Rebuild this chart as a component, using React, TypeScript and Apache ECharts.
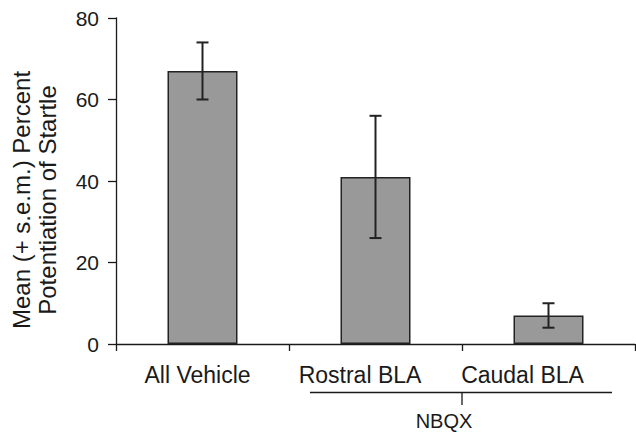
import React, { useEffect, useRef } from "react";
import * as echarts from "echarts";

const categories = ["All Vehicle", "Rostral BLA", "Caudal BLA"];
const means = [67, 41, 7];
const sems = [7, 15, 3];
const yTicks = { min: 0, max: 80, interval: 20 };
const groupLabel = "NBQX";
const yTitle = ["Mean (+ s.e.m.) Percent", "Potentiation of Startle"];
// label shift (px to the left of each category centre) as in the original figure
const labelShift = [10, 31, 52];

const FONT = "'Liberation Sans', Arial, Helvetica, sans-serif";
const INK = "#1a1a1a";

export default function App() {
  const ref = useRef<HTMLDivElement>(null);
  useEffect(() => {
    if (!ref.current) return;
    const chart = echarts.init(ref.current, undefined, { renderer: "svg" });
    const errData = means.map((m, i) => [i, m - sems[i], m + sems[i]]);
    chart.setOption({
      animation: false,
      backgroundColor: "#ffffff",
      grid: { left: 116, right: 1, top: 18, bottom: 89, outerBoundsMode: "none" },
      xAxis: {
        type: "category",
        data: categories.map((c, i) => ({
          value: c,
          textStyle: { padding: [0, labelShift[i], 0, 0] },
        })),
        boundaryGap: true,
        axisLine: { show: true, lineStyle: { color: INK, width: 1.3 } },
        axisTick: { show: true, length: 7, inside: false, alignWithLabel: false, lineStyle: { color: INK, width: 1.3 } },
        axisLabel: { color: INK, fontSize: 23, fontFamily: FONT, margin: 19 },
        splitLine: { show: false },
      },
      yAxis: {
        type: "value",
        min: yTicks.min,
        max: yTicks.max,
        interval: yTicks.interval,
        axisLine: { show: true, lineStyle: { color: INK, width: 1.3 } },
        axisTick: { show: true, length: 8, lineStyle: { color: INK, width: 1.3 } },
        axisLabel: { color: INK, fontSize: 21, fontFamily: FONT, margin: 17 },
        splitLine: { show: false },
      },
      series: [
        {
          type: "bar",
          data: means,
          barWidth: 70,
          itemStyle: { color: "#999999", borderColor: "#222222", borderWidth: 1.5 },
        },
        {
          type: "custom",
          data: errData,
          z: 10,
          renderItem: (params: any, api: any) => {
            const x = api.value(0);
            const lo = api.coord([x, api.value(1)]);
            const hi = api.coord([x, api.value(2)]);
            const half = 6;
            const style = { stroke: "#222222", lineWidth: 2 };
            return {
              type: "group",
              children: [
                { type: "line", shape: { x1: lo[0], y1: lo[1], x2: hi[0], y2: hi[1] }, style },
                { type: "line", shape: { x1: hi[0] - half, y1: hi[1], x2: hi[0] + half, y2: hi[1] }, style },
                { type: "line", shape: { x1: lo[0] - half, y1: lo[1], x2: lo[0] + half, y2: lo[1] }, style },
              ],
            };
          },
        },
      ],
      graphic: [
        {
          type: "text",
          x: 34,
          y: 200,
          rotation: Math.PI / 2,
          style: {
            text: yTitle.join("\n"),
            fontSize: 24,
            fontFamily: FONT,
            fill: INK,
            align: "center",
            verticalAlign: "middle",
            lineHeight: 26,
          },
        },
        {
          type: "line",
          shape: { x1: 310, y1: 392.5, x2: 612, y2: 392.5 },
          style: { stroke: INK, lineWidth: 1.3 },
        },
        {
          type: "line",
          shape: { x1: 462, y1: 392.5, x2: 462, y2: 405 },
          style: { stroke: INK, lineWidth: 1.3 },
        },
        {
          type: "text",
          x: 444,
          y: 421,
          style: {
            text: groupLabel,
            fontSize: 20,
            fontFamily: FONT,
            fill: INK,
            align: "center",
            verticalAlign: "middle",
          },
        },
      ],
    });
    return () => chart.dispose();
  }, []);
  return (
    <div
      ref={ref}
      style={{ position: "fixed", left: 0, top: 0, width: 636, height: 433, background: "#fff" }}
    />
  );
}
